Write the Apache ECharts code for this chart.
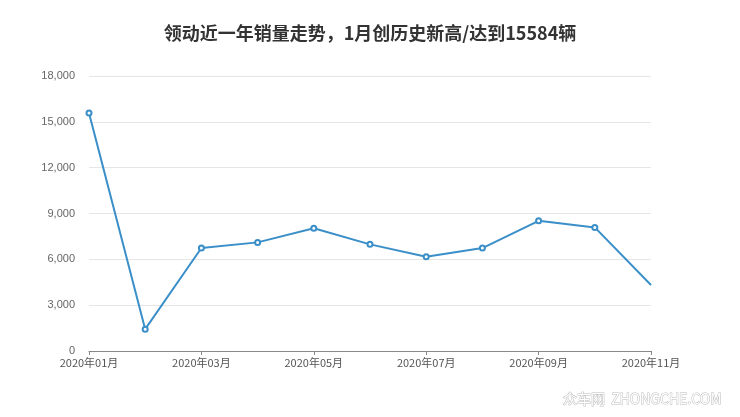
<!DOCTYPE html>
<html><head><meta charset="utf-8">
<script src="https://cdn.jsdelivr.net/npm/echarts@6/dist/echarts.min.js"></script>
<style>html,body{margin:0;padding:0;background:#fff}#c{width:740px;height:417px}</style>
</head><body><div id="c"></div>
<script>
const titleText = '领动近一年销量走势，1月创历史新高/达到15584辆';
const categories = ['2020年01月','2020年02月','2020年03月','2020年04月','2020年05月','2020年06月','2020年07月','2020年08月','2020年09月','2020年10月','2020年11月'];
const sales = [15584, 1430, 6740, 7110, 8040, 6980, 6170, 6740, 8520, 8090, 4320];
const yTicks = [0, 3000, 6000, 9000, 12000, 15000, 18000];

const chart = echarts.init(document.getElementById('c'));
chart.setOption({
  animation: false,
  title: {text: titleText, left: 'center', top: 19, textStyle: {fontSize: 18, fontWeight: 'bold', color: '#333', fontFamily: 'Noto Sans CJK SC'}},
  grid: {left: 89, right: 89, top: 76, bottom: 66},
  xAxis: {type: 'category', data: categories, boundaryGap: false,
    axisLine: {lineStyle: {color: '#888'}},
    axisTick: {interval: 1, length: 4, lineStyle: {color: '#888'}},
    axisLabel: {interval: 1, color: '#555', fontSize: 11, margin: 6, fontFamily: 'Noto Sans CJK SC'}},
  yAxis: {type: 'value', min: yTicks[0], max: yTicks[yTicks.length-1], interval: 3000,
    axisLine: {show: false}, axisTick: {show: false},
    splitLine: {lineStyle: {color: '#e6e6e6'}},
    axisLabel: {color: '#666', fontSize: 11, margin: 14, formatter: v => v.toLocaleString('en-US'), fontFamily: 'Liberation Sans'}},
  series: [{type: 'line', data: sales.map((v, i) => i === sales.length - 1 ? {value: v, symbol: 'none'} : v),
    symbol: 'emptyCircle', symbolSize: 5, showAllSymbol: true,
    lineStyle: {color: '#3a8fc8', width: 2}, itemStyle: {color: '#3a8fc8', borderWidth: 1.2}}],
  graphic: [{type: 'text', right: 18, bottom: 11, style: {text: '众车网  ZHONGCHE.COM', fontSize: 14, fill: '#fff', stroke: '#bbb', lineWidth: 1, fontFamily: 'Noto Sans CJK SC'}}]
});
</script></body></html>
